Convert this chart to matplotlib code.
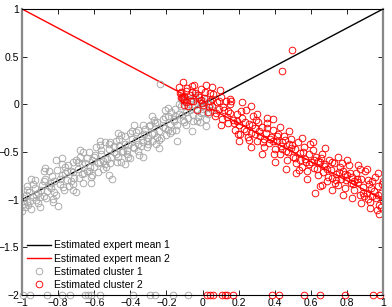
import matplotlib
matplotlib.use("Agg")
import matplotlib.pyplot as plt

plt.rcParams['font.family'] = ['Liberation Sans', 'DejaVu Sans']

# expert mean lines
line_x = [-1.0, 1.0]
mean1_y = [-1.0, 1.0]
mean2_y = [1.0, -1.0]

# cluster 1 (gray) points
c1_x = [-1.00, -0.99, -0.98, -0.97, -0.96, -0.95, -0.94, -0.93, -0.92, -0.91, -0.90, -0.89, -0.88, -0.87,
        -0.86, -0.85, -0.84, -0.83, -0.82, -0.81, -0.80, -0.79, -0.78, -0.77, -0.76, -0.75, -0.74, -0.73,
        -0.72, -0.71, -0.70, -0.69, -0.68, -0.67, -0.66, -0.65, -0.64, -0.63, -0.62, -0.61, -0.60, -0.59,
        -0.58, -0.57, -0.56, -0.55, -0.54, -0.53, -0.52, -0.51, -0.50, -0.49, -0.48, -0.47, -0.46, -0.45,
        -0.44, -0.43, -0.42, -0.41, -0.40, -0.39, -0.38, -0.37, -0.36, -0.35, -0.34, -0.33, -0.32, -0.31,
        -0.30, -0.29, -0.28, -0.27, -0.26, -0.25, -0.24, -0.23, -0.22, -0.21, -0.20, -0.19, -0.18, -0.17,
        -0.16, -0.15, -0.14, -0.13, -0.12, -0.11, -0.10, -0.09, -0.08, -0.07, -0.06, -0.05, -0.04, -0.03,
        -0.02, -0.01, 0.00, 0.01, 0.02, 0.03, 0.04, 0.05,
        -0.995, -0.985, -0.97, -0.955, -0.94, -0.925, -0.91, -0.895, -0.88, -0.865, -0.85, -0.835, -0.82,
        -0.805, -0.79, -0.775, -0.76, -0.745, -0.73, -0.715, -0.70, -0.685, -0.67, -0.655, -0.64, -0.625,
        -0.61, -0.595, -0.58, -0.565, -0.55, -0.535, -0.52, -0.505, -0.49, -0.475, -0.46, -0.445, -0.43,
        -0.415, -0.40, -0.385, -0.37, -0.355, -0.34, -0.325, -0.31, -0.295, -0.28, -0.265, -0.25, -0.235,
        -0.22, -0.205, -0.19, -0.175, -0.16, -0.145, -0.13, -0.115, -0.10, -0.085, -0.07, -0.055, -0.04,
        -0.025, -0.014, 0.005, 0.02,
        -0.975, -0.965, -0.93, -0.90, -0.87, -0.84, -0.81, -0.78, -0.75, -0.72, -0.69, -0.66, -0.63, -0.60,
        -0.57, -0.54, -0.51, -0.48, -0.45, -0.42, -0.39, -0.36, -0.33, -0.30, -0.27, -0.24, -0.21, -0.18,
        -0.15, -0.12, -0.09, -0.06, -0.03, 0.00,
        -0.95, -0.88, -0.83, -0.78, -0.72, -0.68, -0.62, -0.57, -0.52, -0.47, -0.43, -0.38, -0.33, -0.28,
        -0.24, -0.19, -0.14, -0.11, -0.06, -0.04, 0.02]
c1_y = [-1.12, -1.05, -0.95, -1.02, -0.92, -1.10, -0.97, -0.88, -1.00, -0.93, -1.08, -0.85, -0.96, -0.78,
        -0.91, -0.70, -0.88, -0.99, -0.80, -0.58, -1.07, -0.84, -0.74, -0.90, -0.66, -0.79, -0.86, -0.70,
        -0.60, -0.77, -0.92, -0.68, -0.55, -0.73, -0.82, -0.62, -0.70, -0.50, -0.76, -0.58, -0.66, -0.45,
        -0.71, -0.60, -0.52, -0.68, -0.40, -0.57, -0.47, -0.62, -0.78, -0.50, -0.38, -0.55, -0.44, -0.60,
        -0.49, -0.33, -0.52, -0.43, -0.56, -0.36, -0.46, -0.29, -0.42, -0.53, -0.33, -0.40, -0.26, -0.45,
        -0.35, -0.22, -0.38, -0.30, -0.42, -0.19, -0.28, -0.35, -0.15, -0.25, -0.32, -0.12, -0.21, -0.28,
        -0.18, -0.05, -0.22, -0.10, -0.02, -0.16, 0.03, -0.08, -0.14, 0.05, -0.03, -0.11, 0.08, -0.05,
        0.02, -0.09, 0.04, -0.02, 0.06, -0.10, 0.00, -0.06,
        -0.98, -1.08, -0.90, -1.01, -0.84, -0.95, -1.04, -0.90, -0.80, -0.98, -0.86, -0.75, -0.92,
        -0.69, -0.78, -0.87, -0.72, -0.64, -0.80, -0.71, -0.58, -0.77, -0.63, -0.72, -0.56, -0.66,
        -0.74, -0.53, -0.62, -0.48, -0.59, -0.66, -0.42, -0.55, -0.44, -0.61, -0.36, -0.50, -0.42,
        -0.55, -0.30, -0.45, -0.37, -0.27, -0.44, -0.31, -0.38, -0.23, -0.31, -0.20, -0.34, 0.21,
        -0.24, -0.13, -0.27, -0.08, -0.15, -0.27, 0.00, -0.11, -0.19, 0.02, -0.06, -0.17, -0.01,
        -0.13, -0.19, -0.05, -0.15,
        -0.86, -1.06, -0.79, -0.97, -0.67, -0.82, -0.95, -0.63, -0.70, -0.84, -0.60, -0.50, -0.70, -0.55,
        -0.43, -0.63, -0.40, -0.52, -0.32, -0.48, -0.28, -0.49, -0.22, -0.42, -0.16, -0.37, -0.06, -0.30,
        -0.12, 0.06, -0.22, 0.07, -0.18, -0.08,
        -0.78, -0.70, -1.02, -0.56, -0.90, -0.48, -0.82, -0.38, -0.74, -0.30, -0.63, -0.22, -0.55, -0.12,
        -0.46, -0.04, -0.38, 0.09, -0.28, 0.10, -0.23]

# cluster 2 (red) points
c2_x = [-0.12, -0.09, -0.13, -0.12, -0.11, -0.10, -0.09, -0.08, -0.07, -0.06, -0.05, -0.04, -0.03, -0.02,
        -0.01, 0.00, 0.01, 0.02, 0.03, 0.04, 0.05, 0.06, 0.07, 0.08, 0.09, 0.10, 0.11, 0.12, 0.13, 0.14,
        0.15, 0.16, 0.17, 0.18, 0.19, 0.20, 0.21, 0.22, 0.23, 0.24, 0.25, 0.26, 0.27, 0.28, 0.29, 0.30,
        0.31, 0.32, 0.33, 0.34, 0.35, 0.36, 0.37, 0.38, 0.39, 0.40, 0.41, 0.42, 0.43, 0.44, 0.45, 0.46,
        0.47, 0.48, 0.49, 0.50, 0.51, 0.52, 0.53, 0.54, 0.55, 0.56, 0.57, 0.58, 0.59, 0.60, 0.61, 0.62,
        0.63, 0.64, 0.65, 0.66, 0.67, 0.68, 0.69, 0.70, 0.71, 0.72, 0.73, 0.74, 0.75, 0.76, 0.77, 0.78,
        0.79, 0.80, 0.81, 0.82, 0.83, 0.84, 0.85, 0.86, 0.87, 0.88, 0.89, 0.90, 0.91, 0.92, 0.93, 0.94,
        0.95, 0.96, 0.97, 0.98, 0.99, 1.00,
        -0.115, -0.125, -0.105, -0.085, -0.065, -0.045, -0.025, -0.005, 0.015, 0.035, 0.055, 0.075, 0.095,
        0.115, 0.135, 0.155, 0.175, 0.195, 0.215, 0.235, 0.255, 0.275, 0.295, 0.315, 0.335, 0.355, 0.375,
        0.395, 0.415, 0.435, 0.442, 0.455, 0.475, 0.494, 0.495, 0.515, 0.535, 0.555, 0.575, 0.595, 0.615,
        0.635, 0.655, 0.675, 0.695, 0.715, 0.735, 0.755, 0.775, 0.795, 0.815, 0.835, 0.855, 0.875, 0.895,
        0.915, 0.935, 0.955, 0.975, 0.995, 0.965, 0.915,
        -0.10, -0.11, -0.06, -0.01, 0.04, 0.09, 0.14, 0.19, 0.24, 0.29, 0.34, 0.39, 0.44, 0.49, 0.54,
        0.59, 0.64, 0.69, 0.74, 0.79, 0.84, 0.89, 0.94, 0.99, 0.623, 0.978,
        0.05, 0.10, 0.15, 0.20, 0.22, 0.27, 0.30, 0.33, 0.36, 0.40, 0.43, 0.46, 0.48, 0.52, 0.55, 0.58,
        0.61, 0.66, 0.68, 0.72, 0.75, 0.78, 0.80, 0.83, 0.86, 0.88, 0.91, 0.93, 0.97, 1.00, 0.27, 0.39, 0.65]
c2_y = [0.13, 0.02, 0.18, 0.08, 0.23, 0.05, 0.14, -0.02, 0.10, 0.19, 0.03, 0.12, -0.06, 0.08,
        0.16, -0.01, 0.07, 0.20, -0.08, 0.04, -0.02, 0.11, -0.12, 0.02, -0.05, 0.08, -0.15, -0.06, 0.03, -0.20,
        -0.09, 0.04, -0.16, -0.27, -0.10, -0.22, -0.31, -0.14, -0.26, -0.06, -0.34, -0.21, -0.30, -0.12, -0.25, -0.38,
        -0.19, -0.33, -0.24, -0.45, -0.30, -0.20, -0.41, -0.34, -0.27, -0.47, -0.38, -0.31, -0.52, -0.40, -0.33, -0.49,
        -0.58, -0.42, -0.36, -0.55, -0.47, -0.62, -0.40, -0.51, -0.66, -0.45, -0.57, -0.70, -0.52, -0.61, -0.48, -0.67,
        -0.55, -0.74, -0.60, -0.52, -0.71, -0.63, -0.80, -0.58, -0.69, -0.77, -0.62, -0.73, -0.85, -0.66, -0.78, -0.70,
        -0.88, -0.74, -0.64, -0.83, -0.76, -0.90, -0.72, -0.81, -0.95, -0.78, -0.87, -0.70, -0.93, -0.84, -1.02, -0.80,
        -0.91, -0.98, -0.86, -1.06, -0.93, -1.01,
        0.07, 0.12, -0.01, 0.17, 0.04, 0.20, 0.10, 0.01, 0.13, -0.03, 0.06, -0.09, 0.15,
        -0.03, -0.13, 0.00, -0.20, -0.31, -0.07, -0.19, -0.37, -0.22, -0.16, -0.28, -0.40, -0.25, -0.36,
        -0.52, -0.33, -0.44, 0.35, -0.37, -0.50, 0.57, -0.43, -0.56, -0.69, -0.50, -0.61, -0.42, -0.58,
        -0.68, -0.56, -0.65, -0.76, -0.60, -0.82, -0.71, -0.62, -0.79, -0.72, -0.84, -0.78, -0.68, -0.96,
        -0.79, -0.88, -0.76, -0.95, -0.84, -1.11, -0.99,
        0.09, 0.06, 0.13, 0.05, 0.12, 0.03, -0.07, -0.17, -0.28, -0.31, -0.36, -0.38, -0.47, -0.46, -0.58,
        -0.63, -0.59, -0.68, -0.79, -0.73, -0.80, -0.93, -0.96, -1.08, -0.93, -1.15,
        0.18, -0.22, 0.06, -0.38, 0.02, -0.45, -0.10, -0.52, -0.14, -0.60, -0.24, -0.68, -0.28, -0.72, -0.35, -0.78,
        -0.40, -0.85, -0.46, -0.90, -0.55, -0.95, -0.58, -0.98, -0.64, -1.03, -0.68, -1.09, -0.72, -0.80, -0.02, -0.15, -0.86]

# points lying on the lower boundary
c1_bottom_x = [-0.994, -0.956, -0.861, -0.778, -0.734, -0.651, -0.634, -0.620, -0.568, -0.385, -0.291,
               -0.263, -0.164, -0.080]
c2_bottom_x = [0.023, 0.042, 0.060, 0.106, 0.125, 0.134, 0.171, 0.383, 0.425, 0.562, 0.651, 0.789,
               0.943, 0.983]
bottom_y = -2.0

x_ticks = [-1, -0.8, -0.6, -0.4, -0.2, 0, 0.2, 0.4, 0.6, 0.8, 1]
x_labels = ['\u22121', '\u22120.8', '\u22120.6', '\u22120.4', '\u22120.2', '0', '0.2', '0.4', '0.6', '0.8', '1']
y_ticks = [-2, -1.5, -1, -0.5, 0, 0.5, 1]
y_labels = ['\u22122', '\u22121.5', '\u22121', '\u22120.5', '0', '0.5', '1']

GRAY = '#a6a6a6'

fig = plt.figure(figsize=(3.92, 3.07), dpi=100)
ax = fig.add_axes([22 / 392, 12 / 307, 361 / 392, 286 / 307])

ax.plot(line_x, mean1_y, color='black', lw=1.0, label='Estimated expert mean 1')
ax.plot(line_x, mean2_y, color='red', lw=1.0, label='Estimated expert mean 2')
ms = 4.8
mew = 0.65
ax.plot(c1_x, c1_y, 'o', mfc='none', mec=GRAY, ms=ms, mew=mew, label='Estimated cluster 1')
ax.plot(c2_x, c2_y, 'o', mfc='none', mec='red', ms=ms, mew=mew, label='Estimated cluster 2')
ax.plot(c1_bottom_x, [bottom_y] * len(c1_bottom_x), 'o', mfc='none', mec=GRAY, ms=ms, mew=mew,
        clip_on=False)
ax.plot(c2_bottom_x, [bottom_y] * len(c2_bottom_x), 'o', mfc='none', mec='red', ms=ms, mew=mew,
        clip_on=False)

ax.set_xlim(-1, 1)
ax.set_ylim(-2, 1)
ax.set_xticks(x_ticks)
ax.set_xticklabels(x_labels)
ax.set_yticks(y_ticks)
ax.set_yticklabels(y_labels)
ax.tick_params(direction='in', length=3.5, width=0.6, labelsize=7.5, top=True, right=True, pad=2)

for side in ['top', 'bottom']:
    ax.spines[side].set_color('black')
    ax.spines[side].set_linewidth(0.8)
for side in ['left', 'right']:
    ax.spines[side].set_color('#888888')
    ax.spines[side].set_linewidth(1.6)

ax.legend(loc='lower left', bbox_to_anchor=(0.0, 0.0), frameon=False, fontsize=7.5,
          handlelength=2.3, handletextpad=0.3, labelspacing=0.3, borderaxespad=0.3,
          borderpad=0.2)

fig.savefig('out.png', dpi=100)
